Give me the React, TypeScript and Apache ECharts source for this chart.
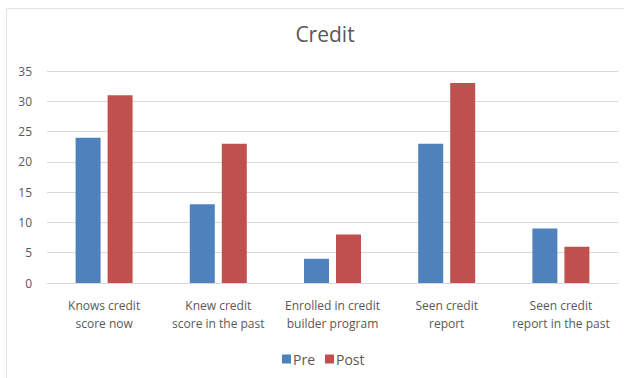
import React, { useEffect, useRef } from "react";
import * as echarts from "echarts";

const categories = [
  "Knows credit\nscore now",
  "Knew credit\nscore in the past",
  "Enrolled in credit\nbuilder program",
  "Seen credit\nreport",
  "Seen credit\nreport in the past",
];
const preValues = [24, 13, 4, 23, 9];
const postValues = [31, 23, 8, 33, 6];
const yTicks = { min: 0, max: 35, interval: 5 };

export default function App() {
  const ref = useRef<HTMLDivElement>(null);
  useEffect(() => {
    if (!ref.current) return;
    const chart = echarts.init(ref.current, undefined, { renderer: "svg" });
    const font = "Open Sans";
    chart.setOption({
      animation: false,
      backgroundColor: "#ffffff",
      textStyle: { fontFamily: font },
      graphic: [
        {
          type: "rect",
          shape: { x: 6.5, y: 8.5, width: 640, height: 400 },
          style: { fill: "none", stroke: "#e3e3e3", lineWidth: 1 },
          silent: true,
        },
      ],
      title: {
        text: "Credit",
        left: 320,
        textAlign: "center",
        top: 18,
        textStyle: { fontFamily: font, fontSize: 21, fontWeight: "normal", color: "#595959" },
      },
      legend: {
        top: 347,
        left: 277,
        itemWidth: 9,
        itemHeight: 9,
        itemGap: 10,
        icon: "rect",
        textStyle: { fontFamily: font, fontSize: 14, color: "#595959", padding: [0, 0, 0, -3] },
        data: ["Pre", "Post"],
      },
      grid: { left: 47, right: 6, top: 71, bottom: 95, containLabel: false },
      xAxis: {
        type: "category",
        data: categories,
        axisTick: { show: false },
        axisLine: { lineStyle: { color: "#d9d9d9" } },
        axisLabel: {
          interval: 0,
          margin: 13,
          fontFamily: font,
          fontSize: 12,
          lineHeight: 18,
          color: "#595959",
        },
      },
      yAxis: {
        type: "value",
        min: yTicks.min,
        max: yTicks.max,
        interval: yTicks.interval,
        axisLine: { show: false },
        axisTick: { show: false },
        splitLine: { lineStyle: { color: "#d9d9d9" } },
        axisLabel: { margin: 15, fontFamily: font, fontSize: 12, color: "#595959" },
      },
      series: [
        {
          name: "Pre",
          type: "bar",
          data: preValues,
          barWidth: 25,
          barGap: "28%",
          itemStyle: { color: "#4f81bd" },
        },
        {
          name: "Post",
          type: "bar",
          data: postValues,
          barWidth: 25,
          barGap: "28%",
          itemStyle: { color: "#c0504d" },
        },
      ],
    });
    return () => chart.dispose();
  }, []);
  return (
    <div
      ref={ref}
      style={{ position: "fixed", left: 0, top: 0, width: 624, height: 378 }}
    />
  );
}
